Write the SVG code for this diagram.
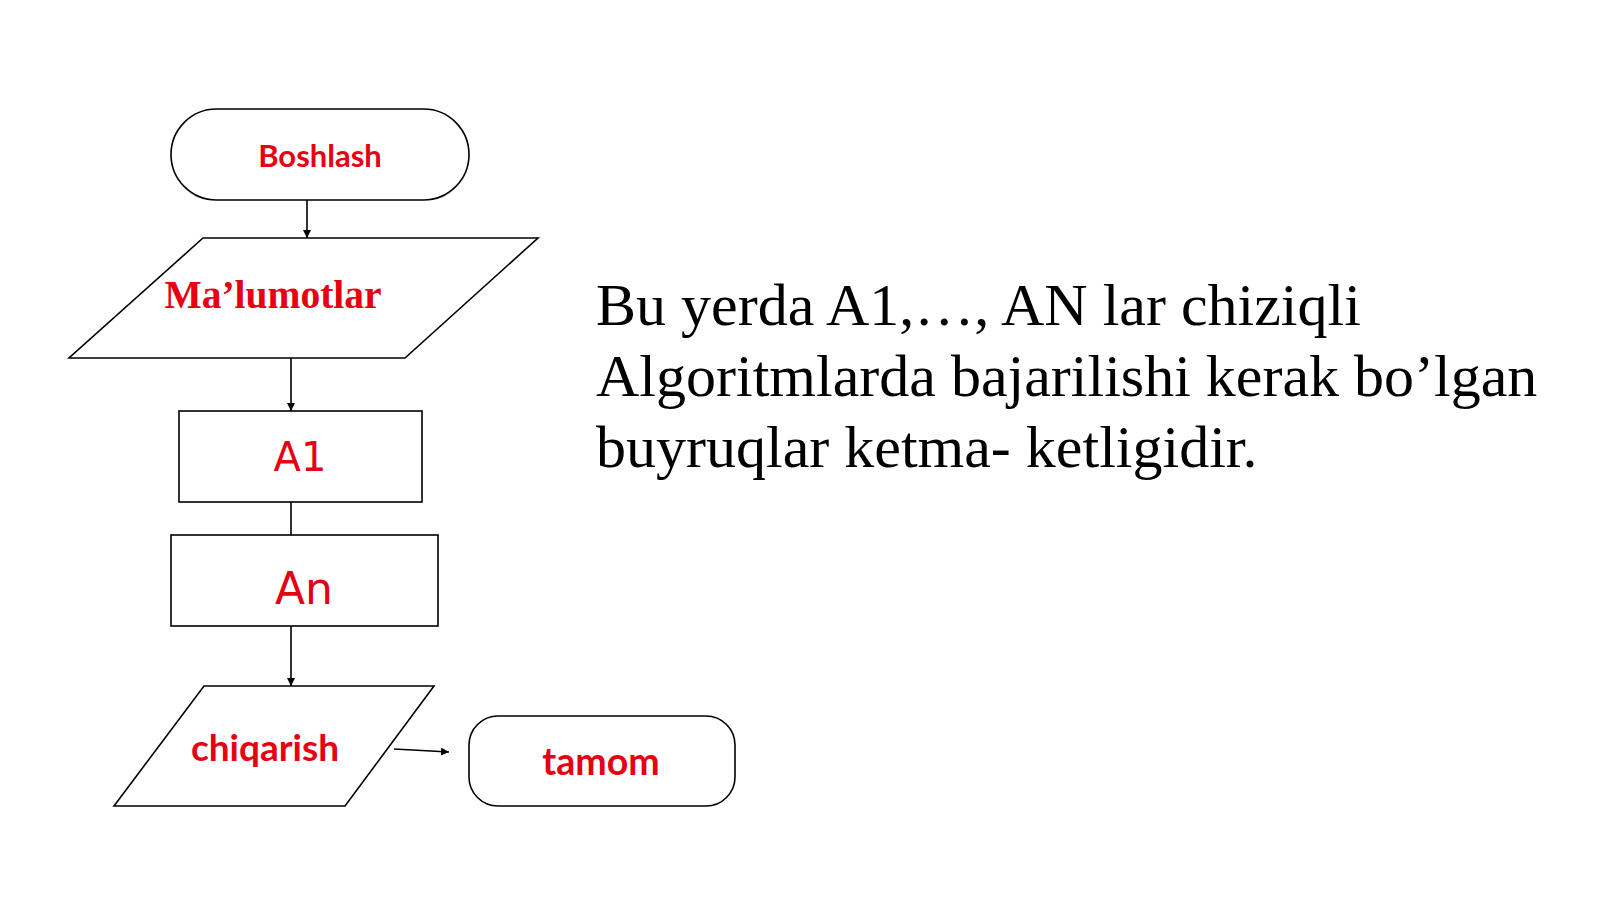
<svg xmlns="http://www.w3.org/2000/svg" width="1600" height="899" viewBox="0 0 1600 899">
<style>
.s{fill:#fff;stroke:#000;stroke-width:1.6}
.c{stroke:#000;stroke-width:1.6;fill:none}
.r{fill:#e60012;text-anchor:middle}
.cal{font-family:Lato,"Open Sans",sans-serif;font-weight:bold}
.tim{font-family:"Liberation Serif",serif}
.ver{font-family:"DejaVu Sans",sans-serif}
</style>
<defs>
<marker id="a" viewBox="0 0 10 10" refX="10" refY="5" markerWidth="8" markerHeight="8" markerUnits="userSpaceOnUse" orient="auto"><path d="M0,0L10,5L0,10z" fill="#000"/></marker>
</defs>
<rect width="1600" height="899" fill="#fff"/>
<g id="connectors">
<line class="c" x1="307" y1="200" x2="307" y2="238" marker-end="url(#a)"/>
<line class="c" x1="291" y1="358" x2="291" y2="411" marker-end="url(#a)"/>
<line class="c" x1="291" y1="502" x2="291" y2="535"/>
<line class="c" x1="291" y1="626" x2="291" y2="686" marker-end="url(#a)"/>
<line class="c" x1="394" y1="749" x2="449" y2="752" marker-end="url(#a)"/>
</g>
<g id="boshlash">
<rect class="s" x="171" y="109" width="298" height="91" rx="45.5"/>
<text class="r cal" x="320" y="167" font-size="31">Boshlash</text>
</g>
<g id="malumotlar">
<polygon class="s" points="203,238 538,238 405,358 69,358"/>
<text class="r tim" x="273" y="308" font-size="39.5" font-weight="bold">Ma’lumotlar</text>
</g>
<g id="a1">
<rect class="s" x="179" y="411" width="243" height="91"/>
<text class="r ver" x="300" y="471" font-size="40">A1</text>
</g>
<g id="an">
<rect class="s" x="171" y="535" width="267" height="91"/>
<text class="r ver" x="304" y="604" font-size="44">An</text>
</g>
<g id="chiqarish">
<polygon class="s" points="204,686 434,686 345,806 114,806"/>
<text class="r cal" x="265" y="761" font-size="37">chiqarish</text>
</g>
<g id="tamom">
<rect class="s" x="469" y="716" width="266" height="90" rx="29"/>
<text class="r cal" x="601" y="775" font-size="37.5">tamom</text>
</g>
<g id="description" class="tim" font-size="60" fill="#000">
<text x="596" y="325">Bu yerda A1,…, AN lar chiziqli</text>
<text x="596" y="396">Algoritmlarda bajarilishi kerak bo’lgan</text>
<text x="596" y="467">buyruqlar ketma- ketligidir.</text>
</g>
</svg>
